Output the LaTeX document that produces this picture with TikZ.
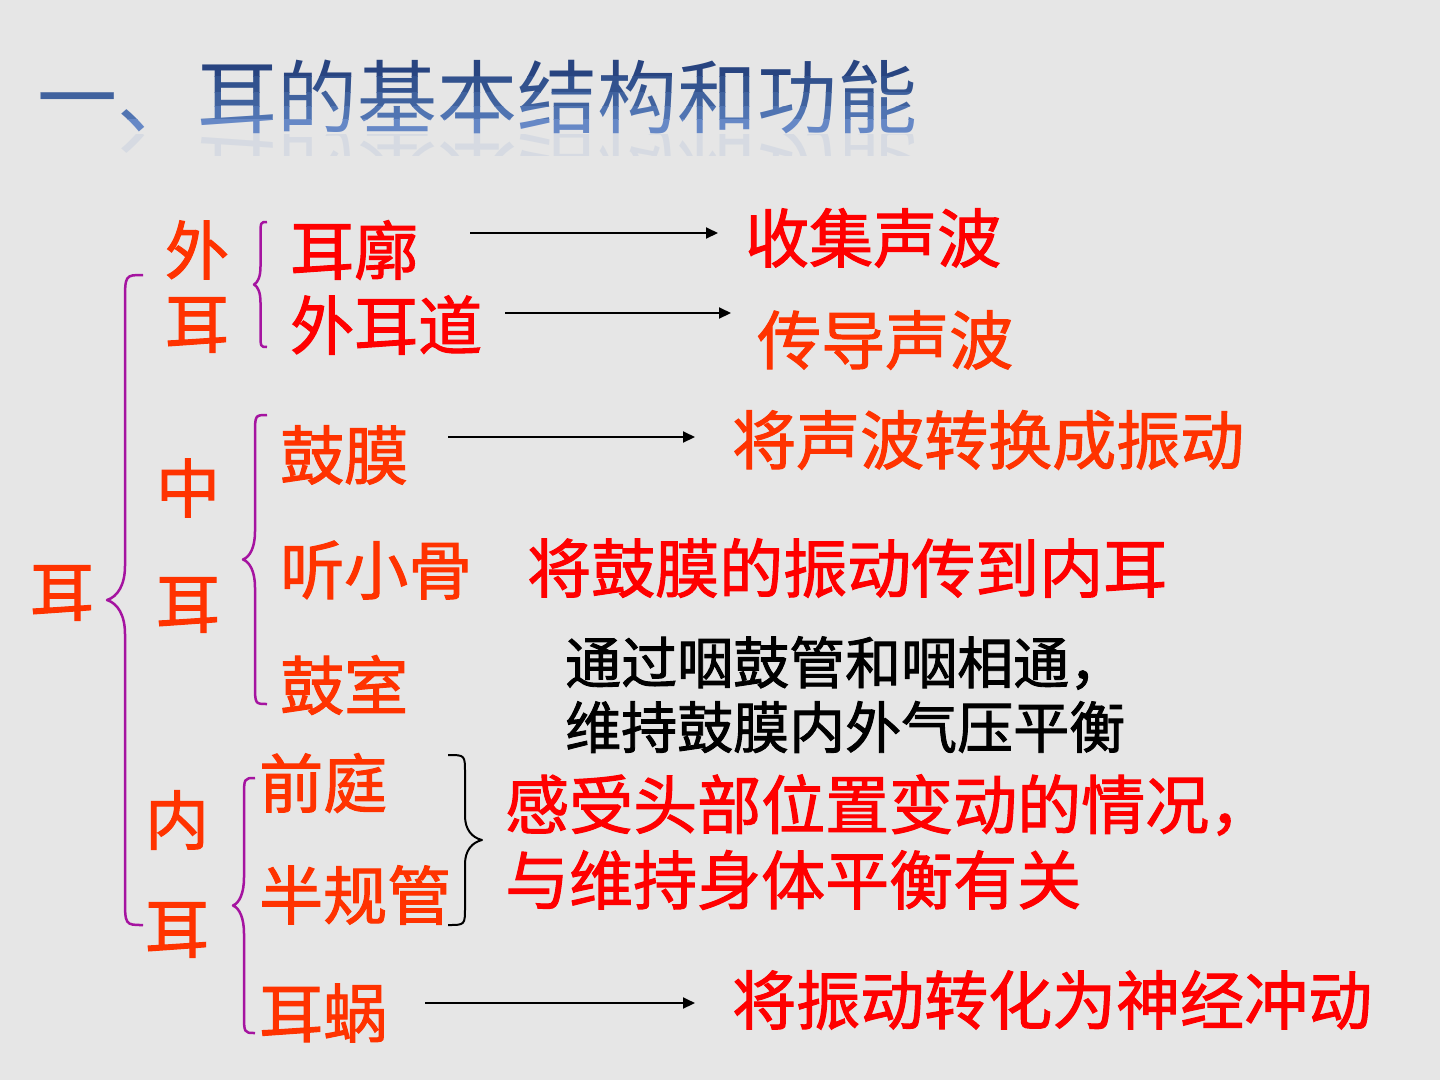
\documentclass[tikz,border=0pt]{standalone}
\usepackage{fontspec}
\newfontfamily\cjk{Noto Sans CJK SC}
\newfontfamily\cjkm[FakeBold=1.6]{Noto Sans CJK SC}
\usetikzlibrary{arrows.meta}
\definecolor{bg}{RGB}{230,230,230}
\definecolor{ored}{RGB}{255,51,0}
\definecolor{pred}{RGB}{255,0,0}
\definecolor{brpurple}{RGB}{165,20,160}
\definecolor{tb1}{RGB}{40,68,128}
\definecolor{tb2}{RGB}{50,82,142}
\definecolor{tb3}{RGB}{64,98,158}
\definecolor{tb4}{RGB}{80,116,178}
\definecolor{tb5}{RGB}{102,136,198}
% #1 style, #2 end x, #3 tip x, #4 top y, #5 bottom y, #6 end radius, #7 tip radius
\newcommand{\earbrace}[7]{%
  \draw[#1] (#2,#4) .. controls ({(#2+#3)/2},#4) .. ({(#2+#3)/2},{#4+#6})
    -- ({(#2+#3)/2},{(#4+#5)/2-#7})
    .. controls ({(#2+#3)/2},{(#4+#5)/2-0.45*#7}) and ({(#2+#3)/2-0.2*(#2-#3)},{(#4+#5)/2-0.1*#7}) .. (#3,{(#4+#5)/2})
    .. controls ({(#2+#3)/2-0.2*(#2-#3)},{(#4+#5)/2+0.1*#7}) and ({(#2+#3)/2},{(#4+#5)/2+0.45*#7}) .. ({(#2+#3)/2},{(#4+#5)/2+#7})
    -- ({(#2+#3)/2},{#5-#6}) .. controls ({(#2+#3)/2},#5) .. (#2,#5);}
\tikzset{
  lab/.style={inner sep=0pt, anchor=west, font=\cjkm\fontsize{64}{70}\selectfont},
  side/.style={inner sep=0pt, anchor=center, text=ored, font=\cjkm\fontsize{64}{70}\selectfont},
  blk/.style={inner sep=0pt, anchor=west, text=black, font=\cjkm\fontsize{56}{62}\selectfont},
  ttl/.style={inner sep=0pt, anchor=west, font=\cjk\fontsize{80}{88}\selectfont},
  pbrace/.style={draw=brpurple, line width=2.5pt, line join=round},
  kbrace/.style={draw=black, line width=2pt, line join=round},
  arr/.style={draw=black, line width=2pt, -{Triangle[length=12pt,width=11pt]}}
}
\begin{document}
\begin{tikzpicture}[x=1pt,y=-1pt]
\fill[bg] (0,0) rectangle (1440,1080);
\useasboundingbox (0,0) rectangle (1440,1080);
% title with vertical gradient (bands)
\begin{scope}\clip (0,40) rectangle (1000,76);
\node[ttl, text=tb1] (title) at (37,97) {一、耳的基本结构和功能};\end{scope}
\begin{scope}\clip (0,76) rectangle (1000,92);
\node[ttl, text=tb2] (titleb) at (37,97) {一、耳的基本结构和功能};\end{scope}
\begin{scope}\clip (0,92) rectangle (1000,106);
\node[ttl, text=tb3] (titlec) at (37,97) {一、耳的基本结构和功能};\end{scope}
\begin{scope}\clip (0,106) rectangle (1000,119);
\node[ttl, text=tb4] (titled) at (37,97) {一、耳的基本结构和功能};\end{scope}
\begin{scope}\clip (0,119) rectangle (1000,140);
\node[ttl, text=tb5] (titlee) at (37,97) {一、耳的基本结构和功能};\end{scope}
% reflection
\begin{scope}\clip (0,134) rectangle (1000,155);
\node[ttl, text=tb5, opacity=0.12, yscale=-1, transform shape, anchor=west] (titler) at (37,166) {一、耳的基本结构和功能};\end{scope}

% left column
\node[side] (er0) at (62,593) {耳};
\node[side] (wai) at (197,250) {外};
\node[side] (wai2) at (197,325) {耳};
\node[side] (zhong) at (188,488) {中};
\node[side] (zhong2) at (188,605) {耳};
\node[side] (nei) at (177,820) {内};
\node[side] (nei2) at (177,930) {耳};

% braces
\earbrace{pbrace}{143}{107}{275}{925}{28}{34}
\earbrace{pbrace}{267}{254}{222}{347}{14}{18}
\earbrace{pbrace}{267}{243}{415}{704}{20}{28}
\earbrace{pbrace}{255}{233}{778}{1033}{20}{28}
\earbrace{kbrace}{448}{482}{755}{925}{18}{24}

% parts
\node[lab, text=pred] (erkuo) at (290,250) {耳廓};
\node[lab, text=pred] (waierdao) at (290,325) {外耳道};
\node[lab, text=ored] (gumo) at (280,455) {鼓膜};
\node[lab, text=ored] (tingxiaogu) at (280,570) {听小骨};
\node[lab, text=ored] (gushi) at (280,685) {鼓室};
\node[lab, text=ored] (qianting) at (259,783) {前庭};
\node[lab, text=ored] (banguiguan) at (259,895) {半规管};
\node[lab, text=ored] (erwo) at (259,1013) {耳蜗};

% functions
\node[lab, text=pred] (shouji) at (745,238) {收集声波};
\node[lab, text=ored] (chuandao) at (757,340) {传导声波};
\node[lab, text=ored] (zhuanhuan) at (732,440) {将声波转换成振动};
\node[lab, text=pred] (chuandaonei) at (527,568) {将鼓膜的振动传到内耳};
\node[blk] (tongguo) at (565,663) {通过咽鼓管和咽相通，};
\node[blk] (weichi) at (565,727) {维持鼓膜内外气压平衡};
\node[lab, text=pred] (ganshou) at (505,805) {感受头部位置变动的情况，};
\node[lab, text=pred] (yuweichi) at (505,880) {与维持身体平衡有关};
\node[lab, text=pred] (shenjing) at (732,1000) {将振动转化为神经冲动};

% arrows
\coordinate (a1s) at (470,233); \coordinate (a1e) at (718,233);
\coordinate (a2s) at (505,313); \coordinate (a2e) at (731,313);
\coordinate (a3s) at (448,437); \coordinate (a3e) at (695,437);
\coordinate (a4s) at (425,1003); \coordinate (a4e) at (695,1003);
\draw[arr] (a1s) -- (a1e);
\draw[arr] (a2s) -- (a2e);
\draw[arr] (a3s) -- (a3e);
\draw[arr] (a4s) -- (a4e);
\end{tikzpicture}
\end{document}
